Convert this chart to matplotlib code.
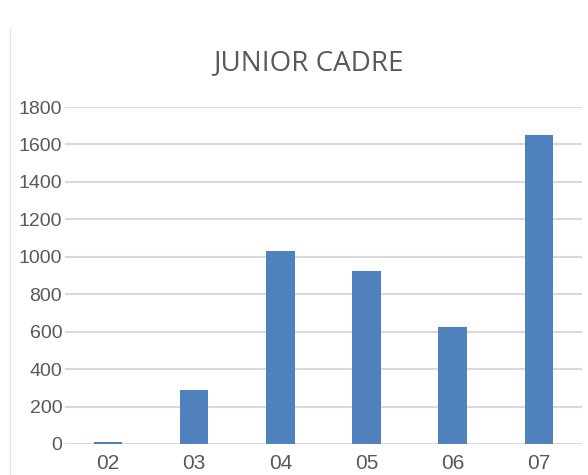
import matplotlib.pyplot as plt
from matplotlib.lines import Line2D

categories = ["02", "03", "04", "05", "06", "07"]
values = [8, 290, 1030, 925, 625, 1650]
yticks = [0, 200, 400, 600, 800, 1000, 1200, 1400, 1600, 1800]

plt.rcParams['font.family'] = ['Liberation Sans', 'DejaVu Sans']

fig = plt.figure(figsize=(5.88, 4.75), dpi=100)
ax = fig.add_axes([0.1105, 0.0653, 0.879, 0.7094])

x = range(len(categories))
ax.bar(x, values, width=0.33, color="#4f81bd", zorder=3)

ax.set_xlim(-0.5, len(categories) - 0.5)
ax.set_ylim(0, 1800)
ax.set_yticks(yticks)
ax.set_xticks(list(x))
ax.set_xticklabels(categories)
ax.grid(axis="y", color="#d9d9d9", linewidth=1.5, zorder=0)
ax.set_axisbelow(True)
for s in ax.spines.values():
    s.set_visible(False)
ax.tick_params(length=0, labelsize=14, colors="#595959")
ax.tick_params(axis="y", pad=2)
ax.tick_params(axis="x", pad=7, labelsize=15)

fig.text(0.525, 0.867, "JUNIOR CADRE", ha="center", va="center",
         fontsize=20, color="#595959", family=['Open Sans', 'DejaVu Sans'])

# faint border of the chart area on the left
fig.add_artist(Line2D([0.017, 0.017], [0.0, 0.94], color="#e6e6e6", linewidth=1))

fig.savefig("out.png", dpi=100)
